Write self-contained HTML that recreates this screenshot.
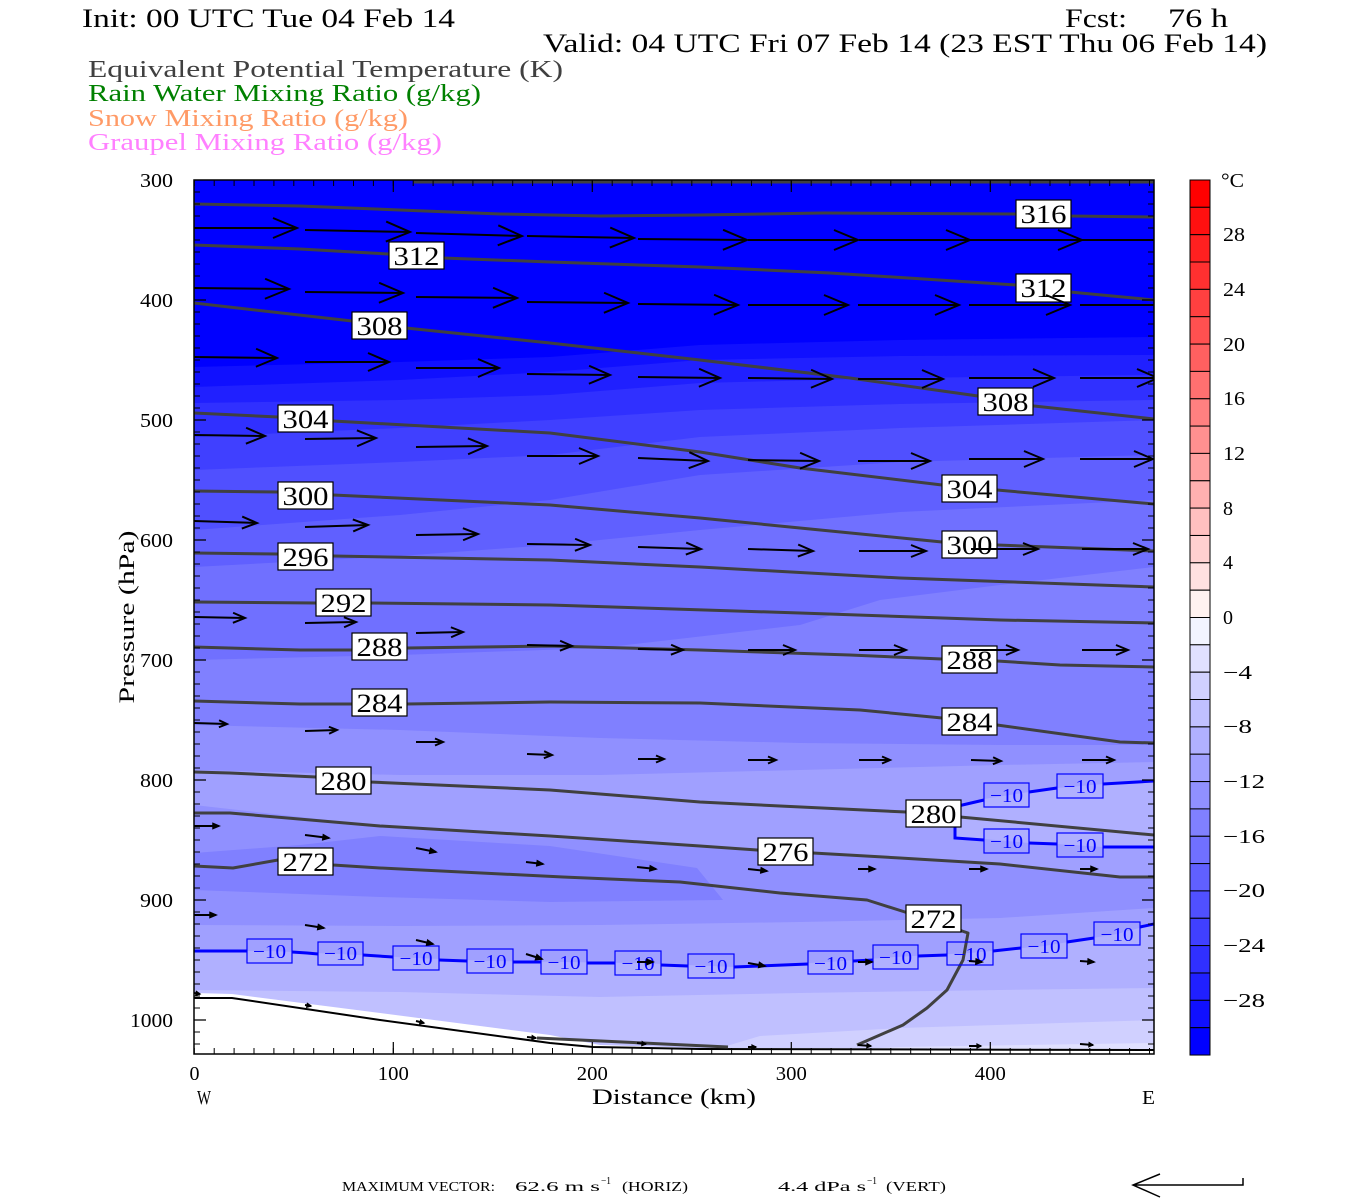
<!DOCTYPE html>
<html><head><meta charset="utf-8"><style>
html,body{margin:0;padding:0;background:#fff;}
svg{display:block;}
text{font-family:"Liberation Serif",serif;}
</style></head><body>
<svg width="1350" height="1200" viewBox="0 0 1350 1200" xmlns="http://www.w3.org/2000/svg">
<defs>
<clipPath id="pc"><rect x="194" y="180" width="960" height="874"/></clipPath>
<marker id="m1" viewBox="-1 -1 26 22" refX="24" refY="10" markerWidth="26" markerHeight="22" markerUnits="userSpaceOnUse" orient="auto" overflow="visible"><path d="M0,0L24,10L0,20" fill="none" stroke="#000" stroke-width="2"/></marker>
<marker id="m3" viewBox="-1 -1 23 20" refX="21" refY="9" markerWidth="23" markerHeight="20" markerUnits="userSpaceOnUse" orient="auto" overflow="visible"><path d="M0,0L21,9L0,18" fill="none" stroke="#000" stroke-width="2"/></marker>
<marker id="m4" viewBox="-1 -1 21 18" refX="19" refY="8" markerWidth="21" markerHeight="18" markerUnits="userSpaceOnUse" orient="auto" overflow="visible"><path d="M0,0L19,8L0,16" fill="none" stroke="#000" stroke-width="2"/></marker>
<marker id="m5" viewBox="-1 -1 17 14" refX="15" refY="6" markerWidth="17" markerHeight="14" markerUnits="userSpaceOnUse" orient="auto" overflow="visible"><path d="M0,0L15,6L0,12" fill="none" stroke="#000" stroke-width="2"/></marker>
<marker id="m6" viewBox="-1 -1 14 12" refX="12" refY="5" markerWidth="14" markerHeight="12" markerUnits="userSpaceOnUse" orient="auto" overflow="visible"><path d="M0,0L12,5L0,10" fill="none" stroke="#000" stroke-width="2"/></marker>
<marker id="m7" viewBox="-1 -1 10 9" refX="8" refY="3.5" markerWidth="10" markerHeight="9" markerUnits="userSpaceOnUse" orient="auto" overflow="visible"><path d="M0,0L8,3.5L0,7" fill="none" stroke="#000" stroke-width="2"/></marker>
<marker id="m8" viewBox="-1 -1 8 7" refX="6" refY="2.5" markerWidth="8" markerHeight="7" markerUnits="userSpaceOnUse" orient="auto" overflow="visible"><path d="M0,0L6,2.5L0,5Z" fill="#000" stroke="#000" stroke-width="1.5"/></marker>
<marker id="m10" viewBox="-1 -1 6 6" refX="4" refY="2" markerWidth="6" markerHeight="6" markerUnits="userSpaceOnUse" orient="auto" overflow="visible"><path d="M0,0L4,2L0,4Z" fill="#000" stroke="#000" stroke-width="1.2"/></marker>
</defs>

<!-- Header text -->
<text x="82" y="27" font-size="26" textLength="373" lengthAdjust="spacingAndGlyphs" fill="#000">Init: 00 UTC Tue 04 Feb 14</text>
<text x="1065" y="27" font-size="26" textLength="62" lengthAdjust="spacingAndGlyphs" fill="#000">Fcst:</text>
<text x="1168" y="27" font-size="26" textLength="60" lengthAdjust="spacingAndGlyphs" fill="#000">76 h</text>
<text x="543" y="52" font-size="26" textLength="724" lengthAdjust="spacingAndGlyphs" fill="#000">Valid: 04 UTC Fri 07 Feb 14 (23 EST Thu 06 Feb 14)</text>
<text x="88" y="77" font-size="24" textLength="475" lengthAdjust="spacingAndGlyphs" fill="#404040">Equivalent Potential Temperature (K)</text>
<text x="88" y="101" font-size="24" textLength="393" lengthAdjust="spacingAndGlyphs" fill="#008000">Rain Water Mixing Ratio (g/kg)</text>
<text x="88" y="126" font-size="24" textLength="320" lengthAdjust="spacingAndGlyphs" fill="#ff9a66">Snow Mixing Ratio (g/kg)</text>
<text x="88" y="150" font-size="24" textLength="354" lengthAdjust="spacingAndGlyphs" fill="#ff80ff">Graupel Mixing Ratio (g/kg)</text>

<!-- Plot fills -->
<g clip-path="url(#pc)">
<rect x="194" y="180" width="960" height="874" fill="#0000ff"/>
<polygon fill="#1010ff" points="194,367 400,362 550,357 700,345 900,340 1154,337 1154,1054 194,1054"/>
<polygon fill="#2020ff" points="194,387 400,380 550,372 700,360 900,356 1154,355 1154,1054 194,1054"/>
<polygon fill="#3030ff" points="194,403 400,400 550,395 700,383 900,378 1154,375 1154,1054 194,1054"/>
<polygon fill="#4040ff" points="194,437 400,428 550,420 700,410 900,404 1154,400 1154,1054 194,1054"/>
<polygon fill="#5050ff" points="194,470 400,462 550,455 700,437 900,428 1154,420 1154,1054 194,1054"/>
<polygon fill="#6060ff" points="194,530 400,515 550,500 700,475 900,462 1154,455 1154,1054 194,1054"/>
<polygon fill="#7070ff" points="194,567 400,556 550,545 700,530 900,512 1154,500 1154,1054 194,1054"/>
<polygon fill="#8080ff" points="194,660 400,655 600,648 800,625 880,600 1000,585 1154,567 1154,1054 194,1054"/>
<polygon fill="#9090ff" points="194,725 400,730 600,738 800,743 1000,745 1154,745 1154,1054 194,1054"/>
<polygon fill="#a0a0ff" points="194,770 400,775 600,775 800,770 1000,765 1154,762 1154,1054 194,1054"/>
<polygon fill="#9090ff" points="194,805 380,826 550,838 700,846 900,858 1000,864 1120,877 1154,877 1154,908 1000,918 800,922 600,925 400,926 194,925"/>
<polygon fill="#8080ff" points="194,853 300,845 380,836 550,846 697,868 723,900 550,902 380,897 194,890"/>
<polygon fill="#b0b0ff" points="194,951 270,951 340,954 416,958 490,961 564,962 638,963 711,966 734,967 830,962 895,957 970,953 1044,946 1117,934 1154,924 1154,1054 194,1054"/>
<polygon fill="#b0b0ff" points="955,806 962,803 984,799 1029,792 1057,788 1103,784 1154,781 1154,847 1103,847 1057,844 1029,843 984,839 955,838"/>
<polygon fill="#c0c0ff" points="194,990 400,992 600,997 800,993 1000,990 1154,988 1154,1054 194,1054"/>
<polygon fill="#d0d0ff" points="700,1054 760,1036 900,1028 1154,1020 1154,1054"/>
<polygon fill="#e0e0ff" points="760,1054 900,1047 1154,1043 1154,1054"/>
<polygon fill="#ffffff" points="194,993 232,994 380,1013 550,1035 600,1045 700,1048 1154,1049 1154,1054 194,1054"/>
<polyline fill="none" stroke="#000" stroke-width="2" points="194,998 232,998 380,1020 550,1043 593,1047 700,1049 1154,1050"/>

<!-- theta-e contours -->
<g fill="none" stroke="#404040" stroke-width="3" stroke-linejoin="round">
<polyline points="413,182 1154,182"/>
<polyline points="194,204 300,206 400,210 500,214 600,216 700,215 823,213 1016,214 1070,216 1154,217"/>
<polyline points="194,245 300,249 388,254 443,258 550,262 700,267 830,273 1016,285 1070,292 1154,300"/>
<polyline points="194,303 352,321 406,328 550,343 700,360 850,378 978,396 1034,406 1154,419"/>
<polyline points="194,413 278,417 333,421 550,433 700,452 800,468 942,485 997,490 1154,504"/>
<polyline points="194,491 278,492 333,495 550,505 700,518 800,528 942,542 997,545 1154,551"/>
<polyline points="194,553 278,554 333,556 550,560 700,567 900,578 1154,587"/>
<polyline points="194,602 316,603 370,603 550,605 800,613 1000,620 1154,623"/>
<polyline points="194,647 300,650 352,650 406,648 550,646 700,650 850,655 942,659 997,661 1060,665 1154,667"/>
<polyline points="194,701 300,704 406,704 550,702 700,703 860,710 942,718 997,725 1120,742 1154,743"/>
<polyline points="194,772 230,773 316,777 370,782 550,790 700,802 780,806 906,812 960,817 1154,835"/>
<polyline points="194,813 230,813 380,826 550,836 700,846 757,850 813,853 900,858 1000,864 1120,877 1154,877"/>
<polyline points="194,866 233,868 278,860 333,865 380,868 563,877 680,882 780,893 867,900 905,912 933,918 962,931 968,933 963,960 947,990 927,1008 903,1025 857,1045"/>
<polyline points="537,1038 728,1047"/>
</g>

<!-- -10 isotherm -->
<g fill="none" stroke="#0000ff" stroke-width="3">
<polyline points="194,951 247,951"/>
<polyline points="292,952 307,953 318,954"/>
<polyline points="363,955 393,957"/>
<polyline points="439,960 467,961"/>
<polyline points="513,962 541,962"/>
<polyline points="587,963 615,963"/>
<polyline points="661,965 688,966"/>
<polyline points="734,967 808,964"/>
<polyline points="853,961 873,960"/>
<polyline points="918,956 947,955"/>
<polyline points="993,951 1021,948"/>
<polyline points="1067,942 1094,938"/>
<polyline points="1140,927 1154,924"/>
<polyline points="958,806 984,800"/>
<polyline points="1029,792 1057,788"/>
<polyline points="1103,784 1154,781"/>
<polyline points="955,826 955,838 984,840"/>
<polyline points="1029,843 1057,844"/>
<polyline points="1103,847 1154,847"/>
</g>
<g fill="none" stroke="#0000ff" stroke-width="1.2">
<rect x="247" y="939" width="45" height="24"/>
<rect x="318" y="942" width="45" height="23"/>
<rect x="393" y="946" width="46" height="24"/>
<rect x="467" y="949" width="46" height="24"/>
<rect x="541" y="950" width="46" height="24"/>
<rect x="615" y="951" width="46" height="24"/>
<rect x="688" y="954" width="46" height="24"/>
<rect x="808" y="951" width="45" height="23"/>
<rect x="873" y="945" width="45" height="24"/>
<rect x="947" y="942" width="46" height="23"/>
<rect x="1021" y="934" width="46" height="24"/>
<rect x="1094" y="922" width="46" height="23"/>
<rect x="984" y="783" width="45" height="24"/>
<rect x="1057" y="774" width="46" height="24"/>
<rect x="984" y="829" width="45" height="24"/>
<rect x="1057" y="833" width="46" height="24"/>
</g>
<g fill="#0000ff" font-size="20" text-anchor="middle">
<text x="269.5" y="958" textLength="33" lengthAdjust="spacingAndGlyphs">−10</text>
<text x="340.5" y="960" textLength="33" lengthAdjust="spacingAndGlyphs">−10</text>
<text x="416" y="965" textLength="33" lengthAdjust="spacingAndGlyphs">−10</text>
<text x="490" y="968" textLength="33" lengthAdjust="spacingAndGlyphs">−10</text>
<text x="564" y="969" textLength="33" lengthAdjust="spacingAndGlyphs">−10</text>
<text x="638" y="970" textLength="33" lengthAdjust="spacingAndGlyphs">−10</text>
<text x="711" y="973" textLength="33" lengthAdjust="spacingAndGlyphs">−10</text>
<text x="830.5" y="970" textLength="33" lengthAdjust="spacingAndGlyphs">−10</text>
<text x="895.5" y="964" textLength="33" lengthAdjust="spacingAndGlyphs">−10</text>
<text x="970" y="961" textLength="33" lengthAdjust="spacingAndGlyphs">−10</text>
<text x="1044" y="953" textLength="33" lengthAdjust="spacingAndGlyphs">−10</text>
<text x="1117" y="941" textLength="33" lengthAdjust="spacingAndGlyphs">−10</text>
<text x="1006.5" y="802" textLength="33" lengthAdjust="spacingAndGlyphs">−10</text>
<text x="1080" y="793" textLength="33" lengthAdjust="spacingAndGlyphs">−10</text>
<text x="1006.5" y="848" textLength="33" lengthAdjust="spacingAndGlyphs">−10</text>
<text x="1080" y="852" textLength="33" lengthAdjust="spacingAndGlyphs">−10</text>
</g>

<!-- theta-e labels -->
<g fill="#fff" stroke="#000" stroke-width="1.2">
<rect x="1016" y="200" width="55" height="28"/>
<rect x="389" y="242" width="55" height="27"/>
<rect x="1016" y="274" width="55" height="28"/>
<rect x="352" y="312" width="55" height="27"/>
<rect x="978" y="388" width="55" height="27"/>
<rect x="278" y="405" width="55" height="27"/>
<rect x="942" y="475" width="55" height="27"/>
<rect x="278" y="482" width="55" height="27"/>
<rect x="942" y="531" width="55" height="27"/>
<rect x="278" y="543" width="55" height="27"/>
<rect x="316" y="589" width="55" height="27"/>
<rect x="352" y="633" width="55" height="27"/>
<rect x="942" y="646" width="55" height="27"/>
<rect x="352" y="689" width="55" height="27"/>
<rect x="942" y="708" width="55" height="27"/>
<rect x="316" y="767" width="55" height="27"/>
<rect x="906" y="800" width="55" height="27"/>
<rect x="758" y="838" width="55" height="27"/>
<rect x="278" y="848" width="55" height="27"/>
<rect x="906" y="905" width="55" height="27"/>
</g>
<g fill="#000" font-size="26" text-anchor="middle">
<text x="1043.5" y="223" textLength="46" lengthAdjust="spacingAndGlyphs">316</text>
<text x="416.5" y="265" textLength="46" lengthAdjust="spacingAndGlyphs">312</text>
<text x="1043.5" y="297" textLength="46" lengthAdjust="spacingAndGlyphs">312</text>
<text x="379.5" y="335" textLength="46" lengthAdjust="spacingAndGlyphs">308</text>
<text x="1005.5" y="411" textLength="46" lengthAdjust="spacingAndGlyphs">308</text>
<text x="305.5" y="428" textLength="46" lengthAdjust="spacingAndGlyphs">304</text>
<text x="969.5" y="498" textLength="46" lengthAdjust="spacingAndGlyphs">304</text>
<text x="305.5" y="505" textLength="46" lengthAdjust="spacingAndGlyphs">300</text>
<text x="969.5" y="554" textLength="46" lengthAdjust="spacingAndGlyphs">300</text>
<text x="305.5" y="566" textLength="46" lengthAdjust="spacingAndGlyphs">296</text>
<text x="343.5" y="612" textLength="46" lengthAdjust="spacingAndGlyphs">292</text>
<text x="379.5" y="656" textLength="46" lengthAdjust="spacingAndGlyphs">288</text>
<text x="969.5" y="669" textLength="46" lengthAdjust="spacingAndGlyphs">288</text>
<text x="379.5" y="712" textLength="46" lengthAdjust="spacingAndGlyphs">284</text>
<text x="969.5" y="731" textLength="46" lengthAdjust="spacingAndGlyphs">284</text>
<text x="343.5" y="790" textLength="46" lengthAdjust="spacingAndGlyphs">280</text>
<text x="933.5" y="823" textLength="46" lengthAdjust="spacingAndGlyphs">280</text>
<text x="785.5" y="861" textLength="46" lengthAdjust="spacingAndGlyphs">276</text>
<text x="305.5" y="871" textLength="46" lengthAdjust="spacingAndGlyphs">272</text>
<text x="933.5" y="928" textLength="46" lengthAdjust="spacingAndGlyphs">272</text>
</g>

<!-- wind vectors -->
<g stroke="#000" stroke-width="2" fill="none">
<line x1="194" y1="228" x2="297" y2="228" marker-end="url(#m1)"/>
<line x1="305" y1="230" x2="410" y2="232" marker-end="url(#m1)"/>
<line x1="416" y1="233" x2="522" y2="236" marker-end="url(#m1)"/>
<line x1="527" y1="236" x2="634" y2="238" marker-end="url(#m1)"/>
<line x1="638" y1="239" x2="747" y2="240" marker-end="url(#m1)"/>
<line x1="748" y1="240" x2="858" y2="240" marker-end="url(#m1)"/>
<line x1="859" y1="240" x2="970" y2="240" marker-end="url(#m1)"/>
<line x1="970" y1="240" x2="1082" y2="240" marker-end="url(#m1)"/>
<line x1="1080" y1="240" x2="1190" y2="240" marker-end="url(#m1)"/>

<line x1="194" y1="288" x2="289" y2="289" marker-end="url(#m1)"/>
<line x1="305" y1="292" x2="403" y2="293" marker-end="url(#m1)"/>
<line x1="416" y1="297" x2="517" y2="298" marker-end="url(#m1)"/>
<line x1="527" y1="302" x2="628" y2="303" marker-end="url(#m1)"/>
<line x1="638" y1="304" x2="738" y2="305" marker-end="url(#m1)"/>
<line x1="748" y1="305" x2="848" y2="305" marker-end="url(#m1)"/>
<line x1="858" y1="305" x2="959" y2="305" marker-end="url(#m1)"/>
<line x1="969" y1="305" x2="1070" y2="305" marker-end="url(#m1)"/>
<line x1="1080" y1="305" x2="1180" y2="305" marker-end="url(#m1)"/>

<line x1="194" y1="357" x2="277" y2="358" marker-end="url(#m3)"/>
<line x1="305" y1="362" x2="389" y2="362" marker-end="url(#m3)"/>
<line x1="416" y1="368" x2="499" y2="368" marker-end="url(#m3)"/>
<line x1="527" y1="374" x2="610" y2="375" marker-end="url(#m3)"/>
<line x1="638" y1="377" x2="720" y2="378" marker-end="url(#m3)"/>
<line x1="748" y1="378" x2="832" y2="379" marker-end="url(#m3)"/>
<line x1="858" y1="379" x2="943" y2="379" marker-end="url(#m3)"/>
<line x1="969" y1="378" x2="1054" y2="378" marker-end="url(#m3)"/>
<line x1="1080" y1="378" x2="1158" y2="378" marker-end="url(#m3)"/>

<line x1="194" y1="435" x2="265" y2="436" marker-end="url(#m4)"/>
<line x1="305" y1="439" x2="376" y2="438" marker-end="url(#m4)"/>
<line x1="416" y1="447" x2="487" y2="446" marker-end="url(#m4)"/>
<line x1="527" y1="456" x2="598" y2="456" marker-end="url(#m4)"/>
<line x1="638" y1="458" x2="708" y2="461" marker-end="url(#m4)"/>
<line x1="748" y1="460" x2="819" y2="461" marker-end="url(#m4)"/>
<line x1="858" y1="461" x2="930" y2="461" marker-end="url(#m4)"/>
<line x1="969" y1="459" x2="1043" y2="459" marker-end="url(#m4)"/>
<line x1="1080" y1="459" x2="1153" y2="459" marker-end="url(#m4)"/>

<line x1="194" y1="521" x2="257" y2="523" marker-end="url(#m5)"/>
<line x1="305" y1="527" x2="368" y2="525" marker-end="url(#m5)"/>
<line x1="416" y1="535" x2="478" y2="534" marker-end="url(#m5)"/>
<line x1="527" y1="544" x2="590" y2="545" marker-end="url(#m5)"/>
<line x1="638" y1="547" x2="701" y2="549" marker-end="url(#m5)"/>
<line x1="748" y1="549" x2="813" y2="551" marker-end="url(#m5)"/>
<line x1="859" y1="551" x2="926" y2="551" marker-end="url(#m5)"/>
<line x1="971" y1="549" x2="1038" y2="549" marker-end="url(#m5)"/>
<line x1="1082" y1="549" x2="1148" y2="549" marker-end="url(#m5)"/>

<line x1="194" y1="617" x2="245" y2="618" marker-end="url(#m6)"/>
<line x1="305" y1="623" x2="356" y2="622" marker-end="url(#m6)"/>
<line x1="416" y1="633" x2="463" y2="632" marker-end="url(#m6)"/>
<line x1="527" y1="645" x2="572" y2="646" marker-end="url(#m6)"/>
<line x1="638" y1="649" x2="683" y2="650" marker-end="url(#m6)"/>
<line x1="748" y1="650" x2="795" y2="650" marker-end="url(#m6)"/>
<line x1="859" y1="650" x2="906" y2="650" marker-end="url(#m6)"/>
<line x1="970" y1="650" x2="1018" y2="650" marker-end="url(#m6)"/>
<line x1="1082" y1="650" x2="1128" y2="650" marker-end="url(#m6)"/>

<line x1="194" y1="723" x2="227" y2="724" marker-end="url(#m7)"/>
<line x1="305" y1="731" x2="337" y2="730" marker-end="url(#m7)"/>
<line x1="416" y1="742" x2="443" y2="742" marker-end="url(#m7)"/>
<line x1="527" y1="754" x2="552" y2="755" marker-end="url(#m7)"/>
<line x1="638" y1="759" x2="664" y2="759" marker-end="url(#m7)"/>
<line x1="748" y1="760" x2="776" y2="760" marker-end="url(#m7)"/>
<line x1="859" y1="760" x2="890" y2="760" marker-end="url(#m7)"/>
<line x1="971" y1="760" x2="1001" y2="761" marker-end="url(#m7)"/>
<line x1="1082" y1="760" x2="1114" y2="760" marker-end="url(#m7)"/>

<line x1="194" y1="826" x2="219" y2="826" marker-end="url(#m8)"/>
<line x1="305" y1="835" x2="329" y2="838" marker-end="url(#m8)"/>
<line x1="416" y1="848" x2="436" y2="852" marker-end="url(#m8)"/>
<line x1="526" y1="862" x2="543" y2="864" marker-end="url(#m8)"/>
<line x1="637" y1="867" x2="656" y2="869" marker-end="url(#m8)"/>
<line x1="748" y1="869" x2="767" y2="871" marker-end="url(#m8)"/>
<line x1="858" y1="869" x2="875" y2="869" marker-end="url(#m8)"/>
<line x1="969" y1="869" x2="987" y2="869" marker-end="url(#m8)"/>
<line x1="1080" y1="869" x2="1097" y2="869" marker-end="url(#m8)"/>

<line x1="194" y1="915" x2="216" y2="915" marker-end="url(#m8)"/>
<line x1="305" y1="925" x2="324" y2="928" marker-end="url(#m8)"/>
<line x1="416" y1="940" x2="433" y2="944" marker-end="url(#m8)"/>
<line x1="526" y1="954" x2="542" y2="959" marker-end="url(#m8)"/>
<line x1="637" y1="962" x2="653" y2="962" marker-end="url(#m8)"/>
<line x1="748" y1="963" x2="765" y2="966" marker-end="url(#m8)"/>
<line x1="858" y1="962" x2="872" y2="962" marker-end="url(#m8)"/>
<line x1="969" y1="961" x2="982" y2="962" marker-end="url(#m8)"/>
<line x1="1080" y1="961" x2="1094" y2="962" marker-end="url(#m8)"/>

<line x1="194" y1="993" x2="200" y2="994" marker-end="url(#m10)"/>
<line x1="305" y1="1005" x2="311" y2="1006" marker-end="url(#m10)"/>
<line x1="416" y1="1021" x2="424" y2="1023" marker-end="url(#m10)"/>
<line x1="527" y1="1037" x2="536" y2="1038" marker-end="url(#m10)"/>
<line x1="637" y1="1043" x2="646" y2="1044" marker-end="url(#m10)"/>
<line x1="748" y1="1047" x2="756" y2="1047" marker-end="url(#m10)"/>
<line x1="858" y1="1045" x2="871" y2="1046" marker-end="url(#m10)"/>
<line x1="969" y1="1046" x2="981" y2="1046" marker-end="url(#m10)"/>
<line x1="1080" y1="1044" x2="1093" y2="1045" marker-end="url(#m10)"/>
</g>
</g>

<!-- axes -->
<rect x="194" y="180" width="960" height="874" fill="none" stroke="#000" stroke-width="1.5"/>
<g stroke="#000">
<line x1="197" y1="179.5" x2="197" y2="1054" stroke-width="6" stroke-dasharray="1 11"/>
<line x1="1151" y1="179.5" x2="1151" y2="1054" stroke-width="6" stroke-dasharray="1 11"/>
<line x1="193.8" y1="183" x2="1154" y2="183" stroke-width="6" stroke-dasharray="1 18.9"/>
<line x1="193.8" y1="1051" x2="1154" y2="1051" stroke-width="6" stroke-dasharray="1 18.9"/>
<path stroke-width="1.2" d="M194,300h12M194,420h12M194,540h12M194,660h12M194,780h12M194,900h12M194,1020h12M1154,300h-12M1154,420h-12M1154,540h-12M1154,660h-12M1154,780h-12M1154,900h-12M1154,1020h-12M393.3,180v12M592.3,180v12M791.3,180v12M990.3,180v12M393.3,1054v-12M592.3,1054v-12M791.3,1054v-12M990.3,1054v-12"/>
</g>

<!-- y tick labels -->
<g fill="#000" font-size="20" text-anchor="end">
<text x="173" y="187" textLength="33" lengthAdjust="spacingAndGlyphs">300</text>
<text x="173" y="307" textLength="33" lengthAdjust="spacingAndGlyphs">400</text>
<text x="173" y="427" textLength="33" lengthAdjust="spacingAndGlyphs">500</text>
<text x="173" y="547" textLength="33" lengthAdjust="spacingAndGlyphs">600</text>
<text x="173" y="667" textLength="33" lengthAdjust="spacingAndGlyphs">700</text>
<text x="173" y="787" textLength="33" lengthAdjust="spacingAndGlyphs">800</text>
<text x="173" y="907" textLength="33" lengthAdjust="spacingAndGlyphs">900</text>
<text x="173" y="1027" textLength="43" lengthAdjust="spacingAndGlyphs">1000</text>
</g>
<text x="0" y="0" font-size="22" text-anchor="middle" textLength="173" lengthAdjust="spacingAndGlyphs" transform="translate(134,617) rotate(-90)" fill="#000">Pressure (hPa)</text>

<!-- x tick labels -->
<g fill="#000" font-size="20" text-anchor="middle">
<text x="194.5" y="1080">0</text>
<text x="393.3" y="1080" textLength="31" lengthAdjust="spacingAndGlyphs">100</text>
<text x="592.3" y="1080" textLength="31" lengthAdjust="spacingAndGlyphs">200</text>
<text x="791.3" y="1080" textLength="31" lengthAdjust="spacingAndGlyphs">300</text>
<text x="990.3" y="1080" textLength="31" lengthAdjust="spacingAndGlyphs">400</text>
</g>
<text x="197" y="1104" font-size="20" textLength="14" lengthAdjust="spacingAndGlyphs" fill="#000">W</text>
<text x="1142" y="1104" font-size="20" textLength="13" lengthAdjust="spacingAndGlyphs" fill="#000">E</text>
<text x="592" y="1104" font-size="22" textLength="164" lengthAdjust="spacingAndGlyphs" fill="#000">Distance (km)</text>

<!-- colorbar -->
<g stroke="#000" stroke-width="1">
<rect x="1190" y="180.0" width="20" height="27.34" fill="#ff0000"/>
<rect x="1190" y="207.3" width="20" height="27.34" fill="#ff1010"/>
<rect x="1190" y="234.7" width="20" height="27.34" fill="#ff2020"/>
<rect x="1190" y="262.0" width="20" height="27.34" fill="#ff3030"/>
<rect x="1190" y="289.4" width="20" height="27.34" fill="#ff4040"/>
<rect x="1190" y="316.7" width="20" height="27.34" fill="#ff5050"/>
<rect x="1190" y="344.1" width="20" height="27.34" fill="#ff6060"/>
<rect x="1190" y="371.4" width="20" height="27.34" fill="#ff7070"/>
<rect x="1190" y="398.8" width="20" height="27.34" fill="#ff8080"/>
<rect x="1190" y="426.1" width="20" height="27.34" fill="#ff9090"/>
<rect x="1190" y="453.4" width="20" height="27.34" fill="#ffa0a0"/>
<rect x="1190" y="480.8" width="20" height="27.34" fill="#ffb0b0"/>
<rect x="1190" y="508.1" width="20" height="27.34" fill="#ffc0c0"/>
<rect x="1190" y="535.5" width="20" height="27.34" fill="#ffd0d0"/>
<rect x="1190" y="562.8" width="20" height="27.34" fill="#ffe0e0"/>
<rect x="1190" y="590.2" width="20" height="27.34" fill="#fff2f0"/>
<rect x="1190" y="617.5" width="20" height="27.34" fill="#f2f4ff"/>
<rect x="1190" y="644.8" width="20" height="27.34" fill="#e0e0ff"/>
<rect x="1190" y="672.2" width="20" height="27.34" fill="#d0d0ff"/>
<rect x="1190" y="699.5" width="20" height="27.34" fill="#c0c0ff"/>
<rect x="1190" y="726.9" width="20" height="27.34" fill="#b0b0ff"/>
<rect x="1190" y="754.2" width="20" height="27.34" fill="#a0a0ff"/>
<rect x="1190" y="781.6" width="20" height="27.34" fill="#9090ff"/>
<rect x="1190" y="808.9" width="20" height="27.34" fill="#8080ff"/>
<rect x="1190" y="836.3" width="20" height="27.34" fill="#7070ff"/>
<rect x="1190" y="863.6" width="20" height="27.34" fill="#6060ff"/>
<rect x="1190" y="890.9" width="20" height="27.34" fill="#5050ff"/>
<rect x="1190" y="918.3" width="20" height="27.34" fill="#4040ff"/>
<rect x="1190" y="945.6" width="20" height="27.34" fill="#3030ff"/>
<rect x="1190" y="973.0" width="20" height="27.34" fill="#2020ff"/>
<rect x="1190" y="1000.3" width="20" height="27.34" fill="#1010ff"/>
<rect x="1190" y="1027.7" width="20" height="27.34" fill="#0000ff"/>
</g>
<g fill="#000" font-size="20">
<text x="1221" y="187" textLength="23" lengthAdjust="spacingAndGlyphs">°C</text>
<text x="1223" y="241" textLength="22" lengthAdjust="spacingAndGlyphs">28</text>
<text x="1223" y="296" textLength="22" lengthAdjust="spacingAndGlyphs">24</text>
<text x="1223" y="351" textLength="22" lengthAdjust="spacingAndGlyphs">20</text>
<text x="1223" y="405" textLength="22" lengthAdjust="spacingAndGlyphs">16</text>
<text x="1223" y="460" textLength="22" lengthAdjust="spacingAndGlyphs">12</text>
<text x="1223" y="515">8</text>
<text x="1223" y="569">4</text>
<text x="1223" y="624">0</text>
<text x="1223" y="679" textLength="29" lengthAdjust="spacingAndGlyphs">−4</text>
<text x="1223" y="733" textLength="29" lengthAdjust="spacingAndGlyphs">−8</text>
<text x="1223" y="788" textLength="42" lengthAdjust="spacingAndGlyphs">−12</text>
<text x="1223" y="843" textLength="42" lengthAdjust="spacingAndGlyphs">−16</text>
<text x="1223" y="897" textLength="42" lengthAdjust="spacingAndGlyphs">−20</text>
<text x="1223" y="952" textLength="42" lengthAdjust="spacingAndGlyphs">−24</text>
<text x="1223" y="1007" textLength="42" lengthAdjust="spacingAndGlyphs">−28</text>
</g>

<!-- bottom vector legend -->
<g fill="#000" font-size="14">
<text x="342" y="1191" textLength="153" lengthAdjust="spacingAndGlyphs">MAXIMUM VECTOR:</text>
<text x="515" y="1191" textLength="85" lengthAdjust="spacingAndGlyphs">62.6 m s</text>
<text x="601" y="1184" font-size="10" textLength="10" lengthAdjust="spacingAndGlyphs">−1</text>
<text x="622" y="1191" textLength="66" lengthAdjust="spacingAndGlyphs">(HORIZ)</text>
<text x="778" y="1191" textLength="88" lengthAdjust="spacingAndGlyphs">4.4 dPa s</text>
<text x="867" y="1184" font-size="10" textLength="10" lengthAdjust="spacingAndGlyphs">−1</text>
<text x="886" y="1191" textLength="60" lengthAdjust="spacingAndGlyphs">(VERT)</text>
</g>
<path d="M1243,1178V1185H1133M1160,1174L1133,1185L1160,1197" fill="none" stroke="#000" stroke-width="1.5"/>
</svg>
</body></html>
